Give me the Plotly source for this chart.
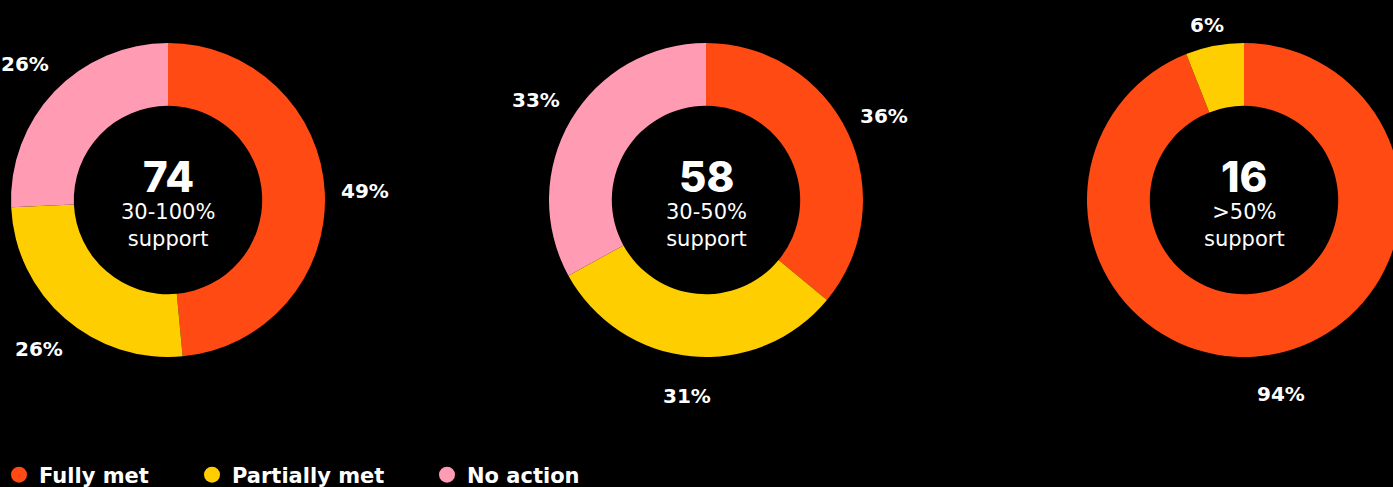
import math
import plotly.graph_objects as go

# ---- data ----
categories = ["Fully met", "Partially met", "No action"]
group_totals = [74, 58, 16]
group_labels = ["30-100%", "30-50%", ">50%"]
pct_all = [49, 26, 26]      # 30-100% support
pct_mid = [36, 31, 33]      # 30-50% support
pct_high = [94, 6, 0]       # >50% support
series = [pct_all, pct_mid, pct_high]

colors = ["#FF4A14", "#FFCE00", "#FF9BB3"]

# ---- layout geometry (pixels) ----
W, H = 1420, 487
centers_px = [168, 706, 1244]
R = 157
cy_px = 200
LABEL_DIST = 197

LBL_FONT = "DejaVu Sans"
NUM_FONT = "Inter"

fig = go.Figure()


def px_to_paper(px, py):
    return px / W, (H - py) / H


def add_text(px, py, text, font):
    x, y = px_to_paper(px, py)
    fig.add_annotation(x=x, y=y, xref="paper", yref="paper",
                       xanchor="center", yanchor="middle",
                       text=text, showarrow=False, font=font)


for vals, cx, tot, lab in zip(series, centers_px, group_totals, group_labels):
    fig.add_trace(go.Pie(
        labels=categories, values=vals, hole=0.6, sort=False,
        direction="clockwise", rotation=0,
        marker=dict(colors=colors, line=dict(width=0)),
        textinfo="none",
        showlegend=False, hoverinfo="label+percent",
        domain=dict(x=[(cx - R) / W, (cx + R) / W],
                    y=[(H - cy_px - R) / H, (H - cy_px + R) / H]),
    ))
    # outside percentage labels at the mid-angle of each slice
    total = sum(vals)
    cum = 0
    for v in vals:
        mid = (cum + v / 2) / total * 2 * math.pi
        cum += v
        if v <= 0:
            continue
        lx = cx + math.sin(mid) * LABEL_DIST
        ly = cy_px - math.cos(mid) * LABEL_DIST
        ly = min(max(ly, 25), H - 60)
        add_text(lx, ly, f"<b>{v}%</b>",
                 dict(family=LBL_FONT, size=20, color="white"))
    # centre texts
    add_text(cx, 176, f"{tot}",
             dict(family=NUM_FONT, size=42, color="white", weight=800))
    add_text(cx, 225.5, f"{lab}<br>support",
             dict(family=LBL_FONT, size=21, color="white"))

# legend via dummy scatter traces with circle markers, each in its own legend
legend_x_px = [-1, 192, 427]
for i, (cat, col) in enumerate(zip(categories, colors)):
    lg = "legend" if i == 0 else f"legend{i+1}"
    fig.add_trace(go.Scatter(x=[None], y=[None], mode="markers", name=cat,
                             marker=dict(symbol="circle", size=17, color=col),
                             showlegend=True, legend=lg, hoverinfo="skip"))

leg_common = dict(orientation="h", yanchor="middle", y=(H - 475) / H,
                  xanchor="left", bgcolor="rgba(0,0,0,0)",
                  font=dict(family=LBL_FONT, size=21, color="white", weight=700))
legs = {}
for i, lx in enumerate(legend_x_px):
    key = "legend" if i == 0 else f"legend{i+1}"
    legs[key] = dict(leg_common, x=lx / W)

fig.update_layout(
    width=W, height=H,
    margin=dict(l=0, r=0, t=0, b=0, autoexpand=False),
    paper_bgcolor="black", plot_bgcolor="black",
    xaxis=dict(visible=False), yaxis=dict(visible=False),
    **legs,
)

fig.write_html("out.html", config={"displayModeBar": False}, post_script=(
    "document.documentElement.style.overflow='hidden';"
    "document.body.style.overflow='hidden';"
    "document.body.style.margin='0';"
))
